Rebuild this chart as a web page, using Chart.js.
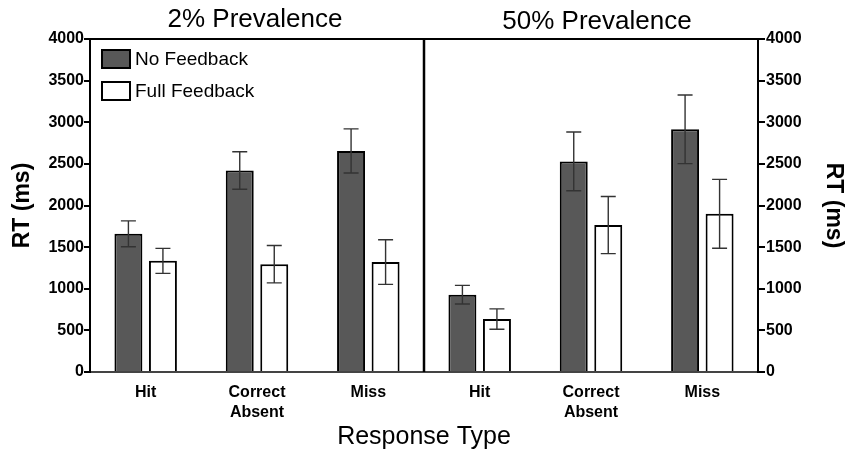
<!DOCTYPE html>
<html>
<head>
<meta charset="utf-8">
<script src="https://cdn.jsdelivr.net/npm/chart.js@4/dist/chart.umd.min.js"></script>
<style>
html,body{margin:0;padding:0;background:#fff;}
#wrap{width:855px;height:462px;position:relative;}
</style>
</head>
<body>
<div id="wrap"><canvas id="c" width="855" height="462"></canvas></div>
<script>
const categories = ['Hit', ['Correct', 'Absent'], 'Miss'];
const panelTitles = ['2% Prevalence', '50% Prevalence'];
const seriesNames = ['No Feedback', 'Full Feedback'];

const noFeedback2 = [1660, 2420, 2655];
const noFeedbackErr2 = [155, 225, 265];
const fullFeedback2 = [1335, 1295, 1320];
const fullFeedbackErr2 = [150, 225, 268];

const noFeedback50 = [928, 2530, 2915];
const noFeedbackErr50 = [112, 352, 412];
const fullFeedback50 = [636, 1765, 1900];
const fullFeedbackErr50 = [122, 343, 414];

const yMin = 0, yMax = 4000, yStep = 500;

const FONT = "'Liberation Sans', Arial, Helvetica, sans-serif";

const labels = categories.concat(categories);
const noData = noFeedback2.concat(noFeedback50);
const noErr = noFeedbackErr2.concat(noFeedbackErr50);
const fullData = fullFeedback2.concat(fullFeedback50);
const fullErr = fullFeedbackErr2.concat(fullFeedbackErr50);

const extras = {
  id: 'extras',
  afterDatasetsDraw(chart) {
    const ctx = chart.ctx;
    const y = chart.scales.y;
    const x = chart.scales.x;
    const area = chart.chartArea;
    chart.data.datasets.forEach((ds, di) => {
      const meta = chart.getDatasetMeta(di);
      meta.data.forEach((bar, i) => {
        const v = ds.data[i], e = ds.errors[i];
        const yt = y.getPixelForValue(v + e), yb = y.getPixelForValue(v - e);
        ctx.save();
        ctx.strokeStyle = '#333';
        ctx.lineWidth = 1.4;
        ctx.beginPath();
        ctx.moveTo(bar.x, yt); ctx.lineTo(bar.x, yb);
        ctx.moveTo(bar.x - 7.5, yt); ctx.lineTo(bar.x + 7.5, yt);
        ctx.moveTo(bar.x - 7.5, yb); ctx.lineTo(bar.x + 7.5, yb);
        ctx.stroke();
        ctx.restore();
      });
    });
    const mid = (x.getPixelForValue(2) + x.getPixelForValue(3)) / 2;
    ctx.save();
    ctx.strokeStyle = '#000';
    ctx.lineWidth = 2;
    ctx.beginPath();
    ctx.moveTo(area.left - 1, area.top); ctx.lineTo(area.right + 1, area.top);
    ctx.stroke();
    ctx.lineWidth = 2.5;
    ctx.beginPath();
    ctx.moveTo(mid, area.top); ctx.lineTo(mid, area.bottom);
    ctx.stroke();
    ctx.fillStyle = '#000';
    ctx.font = '26px ' + FONT;
    ctx.textAlign = 'center';
    ctx.textBaseline = 'middle';
    ctx.fillText(panelTitles[0], (area.left + mid) / 2 - 2, 20);
    ctx.fillText(panelTitles[1], (mid + area.right) / 2 + 6, 22);
    ctx.font = '19px ' + FONT;
    ctx.textAlign = 'left';
    chart.data.datasets.forEach((ds, di) => {
      const bx = area.left + 12, by = area.top + 11 + di * 32;
      ctx.fillStyle = ds.backgroundColor;
      ctx.fillRect(bx, by, 28, 18);
      ctx.lineWidth = 2;
      ctx.strokeStyle = '#000';
      ctx.strokeRect(bx, by, 28, 18);
      ctx.fillStyle = '#000';
      ctx.fillText(ds.label, bx + 33, by + 10);
    });
    ctx.restore();
  }
};

const plainTick = (v) => String(v);

new Chart(document.getElementById('c'), {
  type: 'bar',
  data: {
    labels: labels,
    datasets: [
      { label: seriesNames[0], data: noData, errors: noErr, backgroundColor: '#585858', borderColor: '#000', borderWidth: 2 },
      { label: seriesNames[1], data: fullData, errors: fullErr, backgroundColor: '#ffffff', borderColor: '#000', borderWidth: 2 }
    ]
  },
  options: {
    responsive: false,
    animation: false,
    events: [],
    categoryPercentage: 0.62,
    barPercentage: 0.81,
    layout: { padding: { top: 39, left: 0, right: 0, bottom: 0 } },
    plugins: { legend: { display: false }, tooltip: { enabled: false }, title: { display: false } },
    scales: {
      x: {
        grid: { display: false, drawTicks: false },
        border: { display: true, color: '#444', width: 2 },
        ticks: { color: '#000', font: { family: FONT, size: 16, weight: 'bold', lineHeight: 1.25 }, padding: 11, maxRotation: 0, autoSkip: false },
        title: { display: true, text: 'Response Type', color: '#000', font: { family: FONT, size: 25 }, padding: { top: 0, bottom: 10 } },
        afterFit(s) { s.height = 90; }
      },
      y: {
        position: 'left',
        min: yMin, max: yMax,
        grid: { display: true, drawOnChartArea: false, drawTicks: true, tickLength: 6, color: '#000', lineWidth: 2 },
        border: { display: true, color: '#000', width: 2 },
        ticks: { stepSize: yStep, color: '#000', padding: 0, callback: plainTick, font: { family: FONT, size: 16, weight: 'bold' } },
        title: { display: true, text: 'RT (ms)', color: '#000', font: { family: FONT, size: 23, weight: 'bold' }, padding: { top: 9, bottom: 0 } },
        afterFit(s) { s.width = 90; }
      },
      y2: {
        position: 'right',
        min: yMin, max: yMax,
        grid: { display: true, drawOnChartArea: false, drawTicks: true, tickLength: 7, color: '#000', lineWidth: 2 },
        border: { display: true, color: '#000', width: 2 },
        ticks: { stepSize: yStep, color: '#000', padding: 1, callback: plainTick, font: { family: FONT, size: 16, weight: 'bold' } },
        title: { display: true, text: 'RT (ms)', color: '#000', font: { family: FONT, size: 23, weight: 'bold' }, padding: { top: 8, bottom: 0 } },
        afterFit(s) { s.width = 97; }
      }
    }
  },
  plugins: [extras]
});
</script>
</body>
</html>
